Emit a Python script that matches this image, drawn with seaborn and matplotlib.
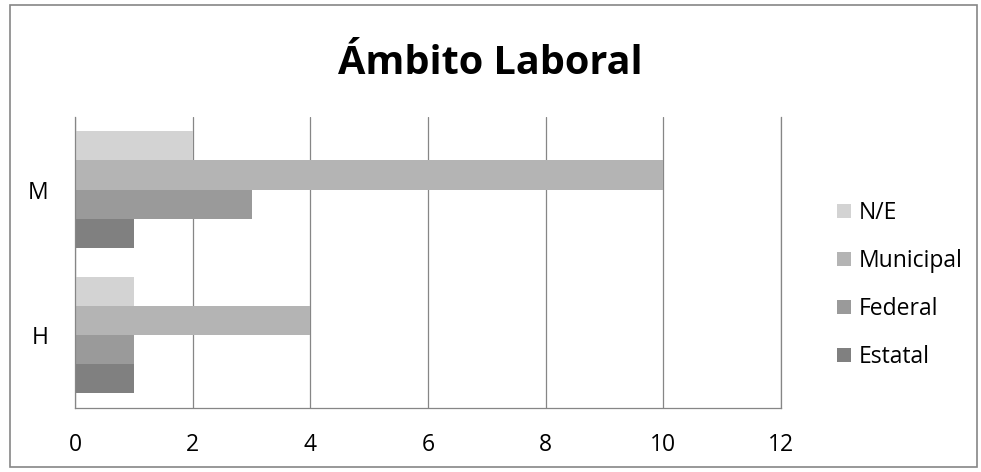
import matplotlib
matplotlib.use("Agg")
import matplotlib.pyplot as plt
import seaborn as sns
import pandas as pd
from matplotlib.patches import Rectangle

categories = ["M", "H"]
series = ["N/E", "Municipal", "Federal", "Estatal"]
values_ne = [2, 1]
values_municipal = [10, 4]
values_federal = [3, 1]
values_estatal = [1, 1]
x_ticks = [0, 2, 4, 6, 8, 10, 12]
title = "Ámbito Laboral"

colors = ["#d3d3d3", "#b4b4b4", "#9a9a9a", "#808080"]

rows = []
for s, vals in zip(series, [values_ne, values_municipal, values_federal, values_estatal]):
    for c, v in zip(categories, vals):
        rows.append({"cat": c, "serie": s, "val": v})
df = pd.DataFrame(rows)

sns.set_theme(style="white")
plt.rcParams["font.family"] = ["Open Sans", "DejaVu Sans"]
plt.rcParams["text.color"] = "black"
plt.rcParams["xtick.color"] = "black"
plt.rcParams["ytick.color"] = "black"

fig = plt.figure(figsize=(9.81, 4.72), dpi=100)
ax = fig.add_axes([0.0765, 0.1356, 0.7195, 0.617])

sns.barplot(data=df, y="cat", x="val", hue="serie", order=categories,
            hue_order=series, palette=colors, orient="h", width=0.8,
            saturation=1, ax=ax, edgecolor="none", linewidth=0)

fs = 16.5
ax.set_xlim(0, 12)
ax.set_ylim(1.5, -0.5)
ax.set_xticks(x_ticks)
ax.set_xticklabels([str(t) for t in x_ticks], fontsize=fs)
ax.tick_params(axis="y", labelsize=fs, pad=19, length=0)
ax.tick_params(axis="x", pad=18, length=0)
ax.set_xlabel("")
ax.set_ylabel("")
ax.xaxis.grid(True, color="#868686", linewidth=0.9)
ax.set_axisbelow(True)
ax.spines["top"].set_visible(False)
for side in ["left", "bottom", "right"]:
    ax.spines[side].set_color("#868686")
    ax.spines[side].set_linewidth(0.9)

fig.text(0.5, 0.866, title, ha="center", va="center", fontsize=28.5, fontweight="bold")

leg = ax.legend(loc="center left", bbox_to_anchor=(1.05, 0.422), frameon=False,
                fontsize=fs, handlelength=0.6, handleheight=0.6,
                handletextpad=0.35, labelspacing=1.05)

fig.patches.append(Rectangle((10 / 981, 1 - 467 / 472), 967 / 981, 462 / 472,
                             transform=fig.transFigure, fill=False,
                             edgecolor="#868686", linewidth=1.2))

fig.savefig("out.png", dpi=100)
